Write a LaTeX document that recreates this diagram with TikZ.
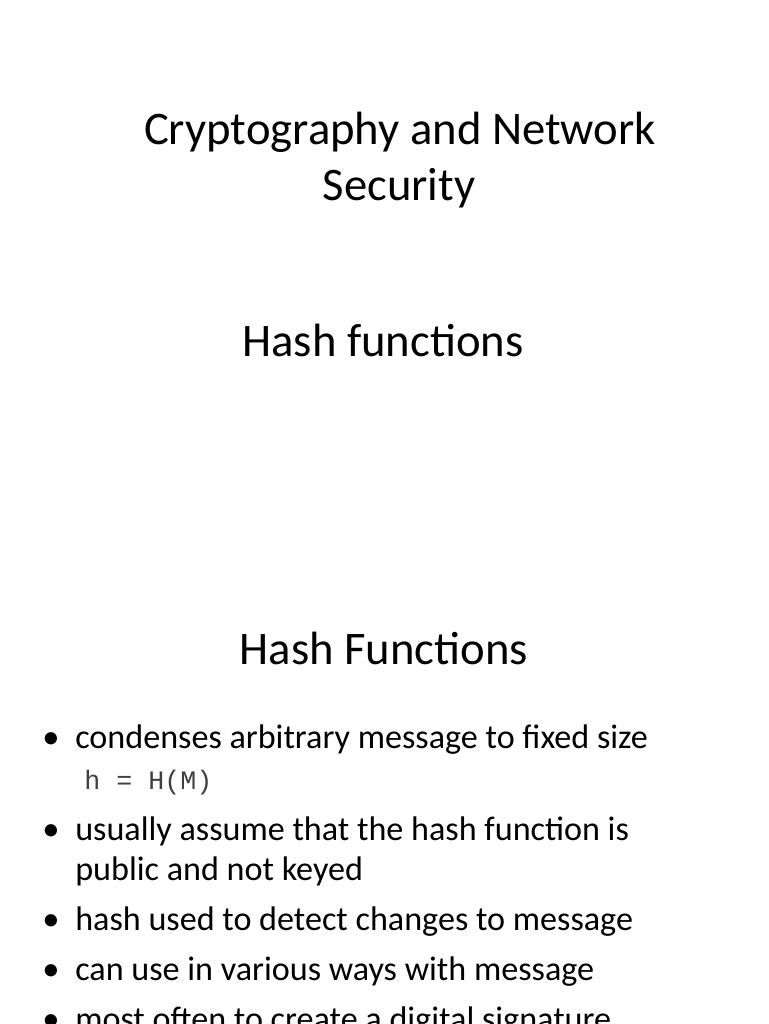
\documentclass[tikz,border=0pt]{standalone}
\usepackage{fontspec}
\setmainfont{Carlito}
\setmonofont{Liberation Mono}
\begin{document}
\begin{tikzpicture}[x=0.75pt,y=-0.75pt,
  big/.style={anchor=base,font=\fontsize{35}{42}\selectfont,inner sep=0pt},
  bul/.style={anchor=base west,font=\fontsize{25.6}{31}\selectfont,inner sep=0pt,align=left},
  dot/.style={anchor=base,font=\fontsize{26}{31}\selectfont,inner sep=0pt}]
\useasboundingbox[fill=white] (0,0) rectangle (768,1024);
\node[big] (t1) at (400,144) {Cryptography and Network};
\node[big] (t2) at (399,200) {Security};
\node[big] (t3) at (383,356) {Hash functions};
\node[big] (t4) at (384,664) {Hash Functions};
\foreach \y/\n in {748/a,840/b,930/c,980/d,1030/e}{\node[dot] (d\n) at (51,\y) {•};}
\node[bul] (b1) at (75,748) {condenses arbitrary message to fixed size};
\node[anchor=base west,inner sep=0pt,font=\ttfamily\fontsize{20}{24}\selectfont,text=black!75] (m) at (84,789) {h = H(M)};
\node[bul] (b2) at (75,840) {usually assume that the hash function is};
\node[bul] (b2b) at (75,880) {public and not keyed};
\node[bul] (b3) at (75,930) {hash used to detect changes to message};
\node[bul] (b4) at (75,980) {can use in various ways with message};
\node[bul] (b5) at (75,1030) {most often to create a digital signature};
\end{tikzpicture}
\end{document}
